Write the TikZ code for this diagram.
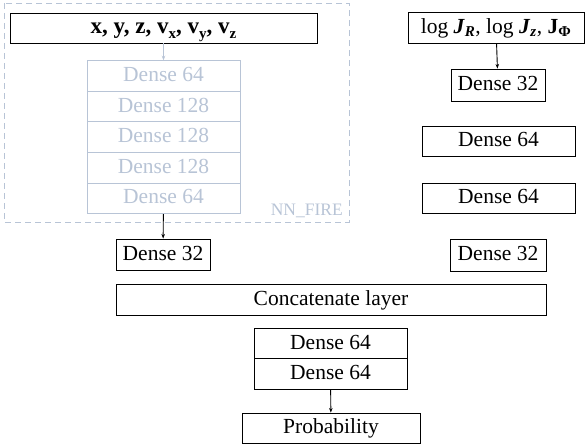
\documentclass[tikz,border=0pt]{standalone}
\usepackage{fontspec}
\setmainfont{Liberation Serif}
\usetikzlibrary{arrows.meta}
\definecolor{fade}{HTML}{B8C4D6}
\newcommand\lowsub[1]{\raisebox{-5.5pt}{\fontsize{15}{15}\selectfont #1}}
\tikzset{
  x=1pt,y=-1pt,
  box/.style={draw=black,line width=0.9pt,inner sep=0pt,font=\fontsize{21.5}{24}\selectfont,text height=15pt,text depth=4pt},
  fbox/.style={box,draw=fade,text=fade},
  arr/.style={-{Stealth[length=4.5pt,width=3.5pt]},line width=0.9pt},
}
\begin{document}
\begin{tikzpicture}
\useasboundingbox (0,0) rectangle (586,447);
% NN_FIRE frame
\draw[fade,dashed,dash pattern=on 6pt off 4pt,line width=0.9pt] (4,3) rectangle (349,222);
\node[anchor=south east,text=fade,font=\fontsize{17.5}{20}\selectfont,inner sep=0pt] (lbl) at (343,218) {NN\_FIRE};
% left branch
\node[box,minimum width=307,minimum height=30,font=\fontsize{23}{24}\selectfont] (inL) at (163.5,28)
  {\textbf{x, y, z, v\lowsub{x}, v\lowsub{y}, v\lowsub{z}}};
\node[fbox,minimum width=153,minimum height=30.6] (f1) at (163.5,76) {Dense 64};
\node[fbox,minimum width=153,minimum height=30.6] (f2) at (163.5,106.6) {Dense 128};
\node[fbox,minimum width=153,minimum height=30.6] (f3) at (163.5,137.2) {Dense 128};
\node[fbox,minimum width=153,minimum height=30.6] (f4) at (163.5,167.8) {Dense 128};
\node[fbox,minimum width=153,minimum height=30.6] (f5) at (163.5,198.4) {Dense 64};
\node[box,minimum width=94,minimum height=31] (dL) at (163,254.5) {Dense 32};
\draw[arr,fade] (inL) -- (f1);
\draw[arr] (f5) -- (dL);
% right branch
\node[box,minimum width=176,minimum height=31] (inR) at (496,27.5)
  {log \textbf{\textit{J}}\textsubscript{\textbf{\textit{R}}}, log \textbf{\textit{J}}\textsubscript{\textbf{\textit{z}}}, \textbf{J}\textsubscript{\textbf{Φ}}};
\node[box,minimum width=94,minimum height=32] (r1) at (498,85) {Dense 32};
\node[box,minimum width=153,minimum height=30] (r2) at (498.5,141) {Dense 64};
\node[box,minimum width=153,minimum height=30] (r3) at (498.5,198) {Dense 64};
\node[box,minimum width=96,minimum height=32] (r4) at (498,255) {Dense 32};
\draw[arr] (inR) -- (r1);
% merge
\node[box,minimum width=430,minimum height=31] (cat) at (331,299.5) {Concatenate layer};
\node[box,minimum width=153,minimum height=30.5] (m1) at (330.5,343.5) {Dense 64};
\node[box,minimum width=153,minimum height=30.5] (m2) at (330.5,374) {Dense 64};
\node[box,minimum width=178,minimum height=30] (out) at (331,428) {Probability};
\draw[arr] (m2) -- (out);
\end{tikzpicture}
\end{document}
